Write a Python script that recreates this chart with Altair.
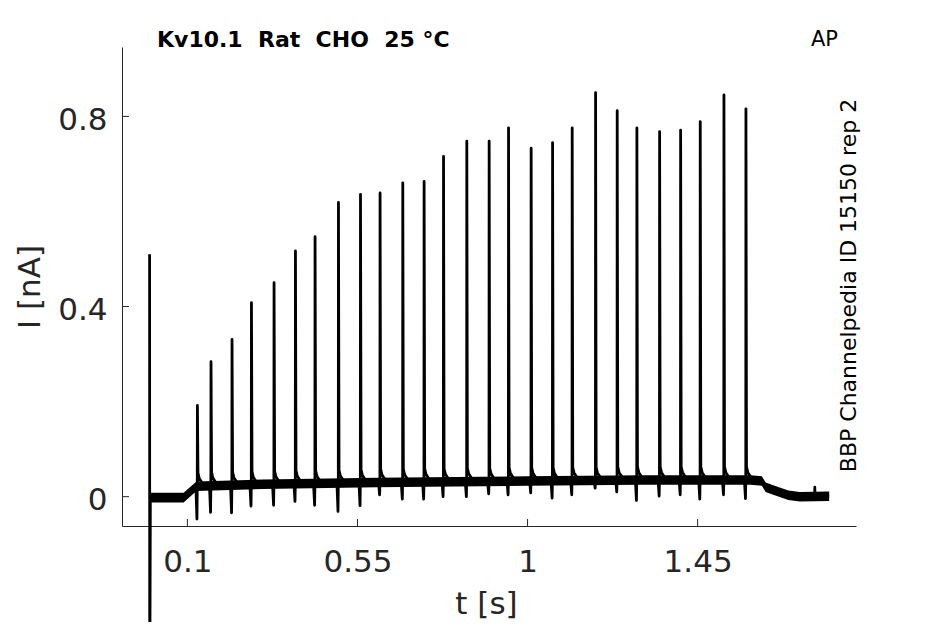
import altair as alt
import pandas as pd

# ---------------- data ----------------
# stimulus-evoked current spikes
spike_t = [0.1265, 0.1625, 0.2181, 0.2695, 0.3293, 0.3859, 0.4378, 0.4997, 0.5580,
           0.6098, 0.6699, 0.7263, 0.7777, 0.8393, 0.8984, 0.9497, 1.0095, 1.0662,
           1.1181, 1.1800, 1.2372, 1.2893, 1.3494, 1.4050, 1.4569, 1.5196, 1.5778]
spike_peak = [0.192, 0.284, 0.331, 0.408, 0.450, 0.517, 0.547, 0.619, 0.636,
              0.639, 0.660, 0.663, 0.716, 0.748, 0.748, 0.776, 0.733, 0.745,
              0.776, 0.850, 0.812, 0.776, 0.768, 0.771, 0.789, 0.845, 0.816]
spike_dip = [-0.047, -0.033, -0.034, -0.020, -0.018, -0.010, -0.018, -0.031, -0.019,
             0.004, -0.005, -0.005, 0.000, 0.000, 0.006, 0.004, 0.008, -0.003,
             0.004, 0.018, 0.010, -0.008, 0.001, 0.004, -0.005, 0.004, -0.004]
spike_base = [0.022, 0.023, 0.024, 0.025, 0.026, 0.027, 0.027, 0.028, 0.029,
              0.030, 0.030, 0.031, 0.031, 0.032, 0.032, 0.033, 0.033, 0.033,
              0.034, 0.034, 0.035, 0.035, 0.035, 0.035, 0.035, 0.035, 0.035]

# trace before the first spike (capacitive artifact at t=0, holding, ramp)
lead_t = [0.000, 0.0004, 0.002, 0.090, 0.122]
lead_i = [0.510, -0.450, 0.000, -0.002, 0.022]

# trace after the last spike (shoulder, decay, end of recording)
tail_t = [1.600, 1.620, 1.628, 1.650, 1.690, 1.720, 1.7595, 1.7600, 1.7605, 1.798]
tail_i = [0.034, 0.033, 0.020, 0.014, 0.003, 0.000, 0.001, 0.020, 0.001, 0.001]

# recording-noise envelope of the baseline
noise_t = [0.002, 0.090, 0.124, 0.300, 0.600, 1.000, 1.300, 1.590, 1.620, 1.630, 1.650, 1.690, 1.720, 1.798]
noise_lo = [-0.012, -0.012, 0.012, 0.016, 0.020, 0.023, 0.025, 0.025, 0.023, 0.010, 0.004, -0.007, -0.010, -0.009]
noise_hi = [0.008, 0.008, 0.032, 0.036, 0.040, 0.043, 0.045, 0.045, 0.043, 0.030, 0.024, 0.013, 0.010, 0.011]

x_ticks = [0.1, 0.55, 1, 1.45]
y_ticks = [0, 0.4, 0.8]
x_domain = [-0.073, 1.869]
y_domain = [-0.0617, 0.946]

NB = "\u00a0"
title_text = f"Kv10.1{NB} Rat{NB} CHO{NB} 25 °C"
corner_text = "AP"
side_text = "BBP Channelpedia ID 15150 rep 2"
x_title = "t [s]"
y_title = "I [nA]"

# ---------------- build the trace ----------------
rows = []
def add(t, v):
    rows.append({"t": t, "I": v, "k": len(rows)})

for t, v in zip(lead_t, lead_i):
    add(t, v)
for t, pk, dp, b in zip(spike_t, spike_peak, spike_dip, spike_base):
    add(t - 0.004, b)
    add(t - 0.0012, dp)
    add(t - 0.0004, b)
    add(t, pk)
    add(t + 0.0015, b + 0.028)
    add(t + 0.005, b + 0.016)
    add(t + 0.014, b + 0.005)
for t, v in zip(tail_t, tail_i):
    add(t, v)
trace = pd.DataFrame(rows)
band = pd.DataFrame({"t": noise_t, "lo": noise_lo, "hi": noise_hi})

W, H = 734, 479
AX = "#262626"
FONT = "DejaVu Sans"

xs = alt.Scale(domain=x_domain, nice=False, zero=False)
ys = alt.Scale(domain=y_domain, nice=False, zero=False)

x_axis = alt.Axis(values=x_ticks, format=".3~g", grid=False, ticks=False, tickSize=0,
                  labelFontSize=31, labelFont=FONT, labelColor=AX, labelPadding=21,
                  domainColor=AX, domainWidth=1, title=x_title, titleFont=FONT,
                  titleFontSize=31, titleFontWeight="normal", titleColor=AX,
                  titleBaseline="alphabetic", titleY=87, titleX=364)
y_axis = alt.Axis(values=y_ticks, format=".3~g", grid=False, ticks=False, tickSize=0,
                  labelFontSize=31, labelFont=FONT, labelColor=AX, labelPadding=15,
                  labelOffset=4, domainColor=AX, domainWidth=1, title=y_title,
                  titleFont=FONT, titleFontSize=31, titleFontWeight="normal",
                  titleColor=AX, titleBaseline="alphabetic", titleX=-83, titleY=H / 2,
                  titleAngle=270)

noise = alt.Chart(band).mark_area(color="black", opacity=1).encode(
    x=alt.X("t:Q", scale=xs, axis=x_axis),
    y=alt.Y("lo:Q", scale=ys, axis=y_axis),
    y2="hi:Q",
)

line = alt.Chart(trace).mark_line(color="black", strokeWidth=2.8, strokeJoin="round").encode(
    x=alt.X("t:Q", scale=xs),
    y=alt.Y("I:Q", scale=ys),
    order="k:Q",
)

xt = alt.Chart(pd.DataFrame({"v": x_ticks})).mark_rule(color=AX, strokeWidth=1).encode(
    x=alt.X("v:Q", scale=xs), y=alt.value(H), y2=alt.value(H - 7))
yt = alt.Chart(pd.DataFrame({"v": y_ticks})).mark_rule(color=AX, strokeWidth=1).encode(
    y=alt.Y("v:Q", scale=ys), x=alt.value(0), x2=alt.value(7))

t1 = alt.Chart(pd.DataFrame({"s": [title_text]})).mark_text(
    font=FONT, fontSize=22, fontWeight="bold", color="black", align="left",
    baseline="alphabetic").encode(text="s:N", x=alt.value(35), y=alt.value(0))
t2 = alt.Chart(pd.DataFrame({"s": [corner_text]})).mark_text(
    font=FONT, fontSize=21, color="black", align="right",
    baseline="alphabetic").encode(text="s:N", x=alt.value(716), y=alt.value(-1.5))
t3 = alt.Chart(pd.DataFrame({"s": [side_text]})).mark_text(
    font=FONT, fontSize=22, color="black", align="center", angle=270,
    baseline="alphabetic").encode(text="s:N", x=alt.value(W), y=alt.value(H / 2 - 1))

chart = alt.layer(noise, line, xt, yt, t1, t2, t3).properties(
    width=W, height=H,
    autosize=alt.AutoSizeParams(type="none"),
    padding={"left": 114, "top": 39, "right": 75, "bottom": 96},
    background="white",
).configure_view(stroke=None)

chart.save("out.html", embed_options={"renderer": "svg", "actions": False})
